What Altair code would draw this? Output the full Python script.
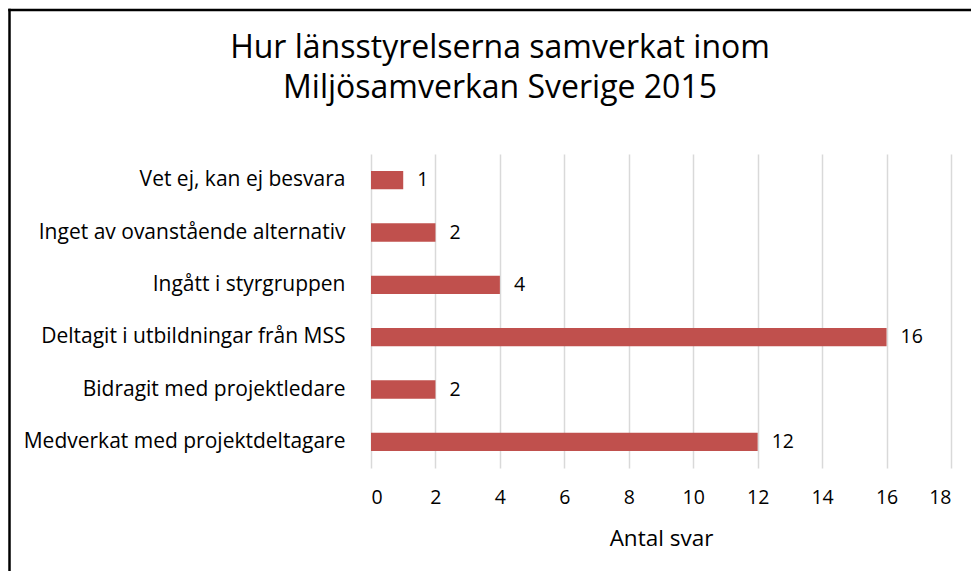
import altair as alt
import pandas as pd

categories = [
    "Vet ej, kan ej besvara",
    "Inget av ovanstående alternativ",
    "Ingått i styrgruppen",
    "Deltagit i utbildningar från MSS",
    "Bidragit med projektledare",
    "Medverkat med projektdeltagare",
]
values = [1, 2, 4, 16, 2, 12]
title_lines = ["Hur länsstyrelserna samverkat inom", "Miljösamverkan Sverige 2015"]
x_title = "Antal svar"

df = pd.DataFrame({"cat": categories, "val": values})

FONT = "Open Sans"
CAT = 21
NUM = 19.5

y_enc = alt.Y(
    "cat:N",
    sort=categories,
    title=None,
    scale=alt.Scale(paddingInner=0.65, paddingOuter=0.325),
    axis=alt.Axis(
        domain=False, ticks=False, grid=False, labelFontSize=CAT, labelFont=FONT,
        labelColor="#000000", labelPadding=26, labelLimit=400,
    ),
)
x_enc = alt.X(
    "val:Q",
    title=x_title,
    scale=alt.Scale(domain=[0, 18], nice=False),
    axis=alt.Axis(
        values=list(range(0, 19, 2)), domain=False, ticks=False, grid=True,
        gridColor="#d9d9d9", gridWidth=1.5, labelFontSize=NUM, labelFont=FONT,
        labelColor="#000000", labelPadding=20, titleFontSize=22.5, titleFont=FONT,
        titleColor="#000000", titleFontWeight="normal", titlePadding=21,
    ),
)

bars = alt.Chart(df).mark_bar(color="#c0504d").encode(y=y_enc, x=x_enc)
labels = alt.Chart(df).mark_text(
    align="left", baseline="middle", dx=14, fontSize=NUM, font=FONT, color="#000000"
).encode(y=alt.Y("cat:N", sort=categories), x="val:Q", text="val:Q")

title = alt.Chart(pd.DataFrame({"a": [0]})).mark_text(
    text=title_lines, lineHeight=40, fontSize=32, font=FONT, color="#000000",
    align="center", baseline="alphabetic",
).encode(x=alt.value(129), y=alt.value(-96))

frame_left = alt.Chart(pd.DataFrame({"a": [0]})).mark_rule(
    stroke="#000000", strokeWidth=2.5
).encode(x=alt.value(-361.5), y=alt.value(-145.25), y2=alt.value(460))

frame_top = alt.Chart(pd.DataFrame({"a": [0]})).mark_rule(
    stroke="#000000", strokeWidth=2.5
).encode(x=alt.value(-362.75), x2=alt.value(640), y=alt.value(-144))

chart = alt.layer(bars, labels, title, frame_left, frame_top).properties(
    width=580,
    height=314,
    padding={"left": 363, "top": 146, "right": 20, "bottom": 103},
    autosize=alt.AutoSizeParams(type="none"),
).configure_view(stroke=None)

chart.save("out.html", embed_options={"renderer": "svg", "actions": False})
